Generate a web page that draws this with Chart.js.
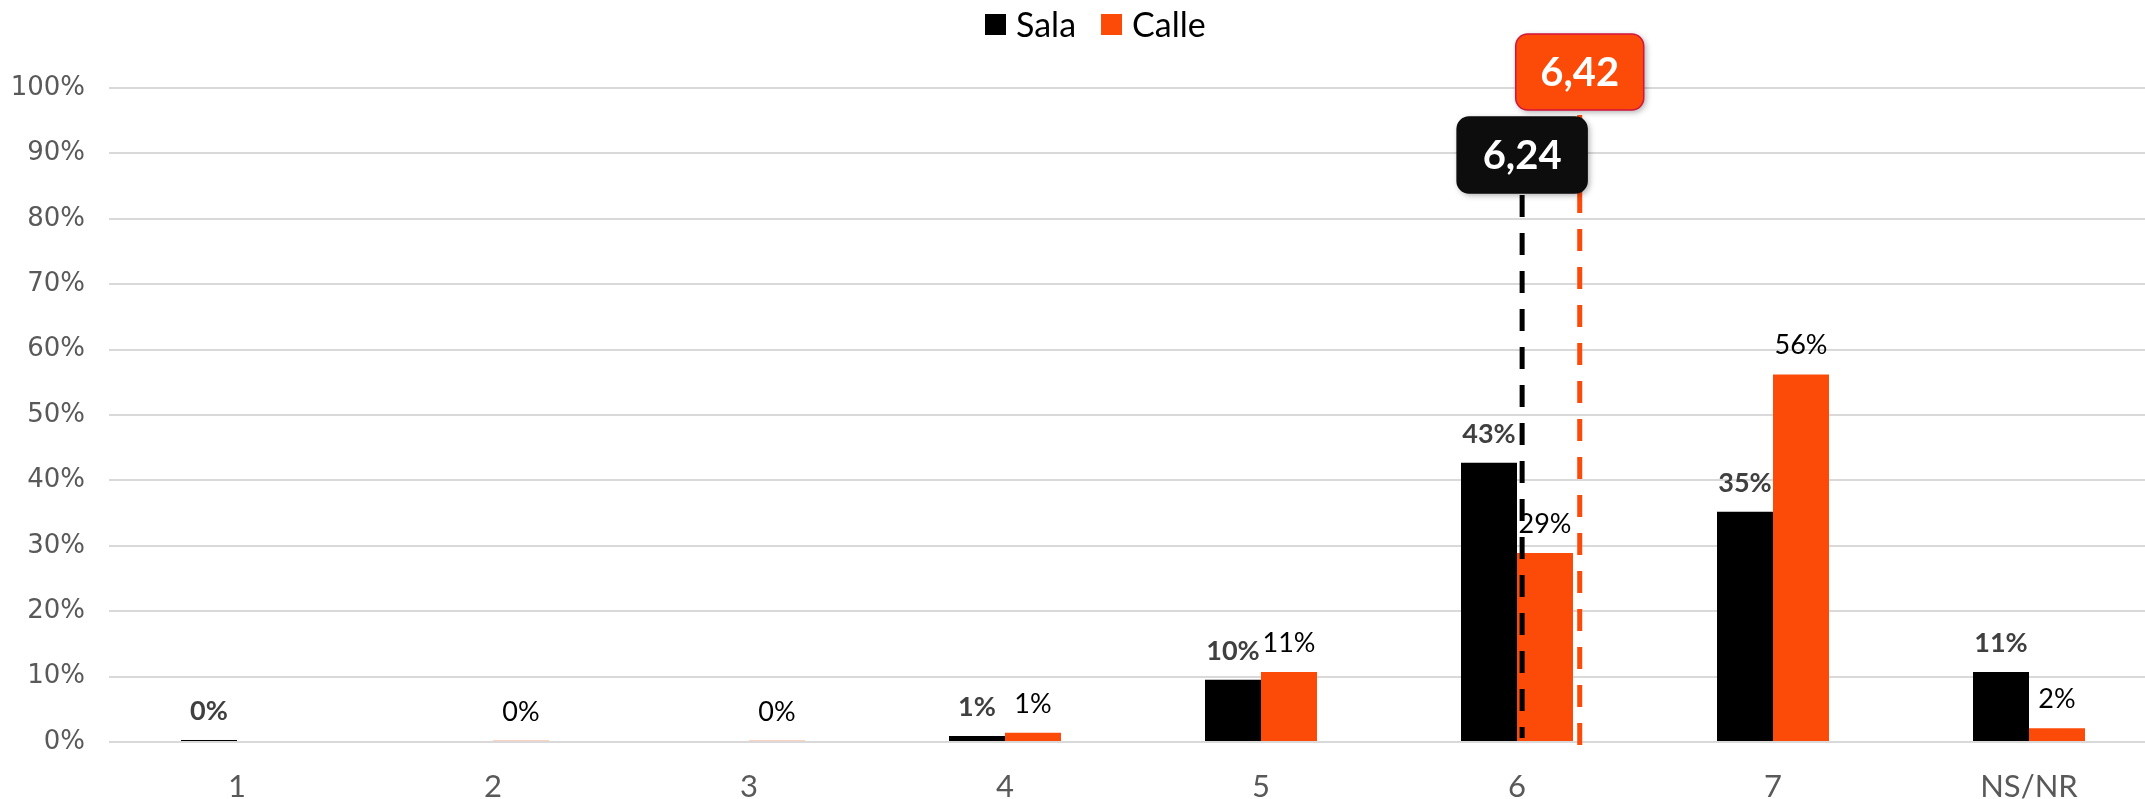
<!DOCTYPE html>
<html>
<head>
<meta charset="utf-8">
<script src="https://cdn.jsdelivr.net/npm/chart.js"></script>
<style>
  html, body { margin: 0; padding: 0; background: #fff; overflow: hidden; }
  #wrap { width: 2157px; height: 799px; }
</style>
</head>
<body>
<div id="wrap"><canvas id="myChart" width="2157" height="799"></canvas></div>
<script>
// data
var categories = ['1', '2', '3', '4', '5', '6', '7', 'NS/NR'];
var sala  = [0.003, 0, 0, 0.009, 0.095, 0.427, 0.352, 0.107];
var calle = [0, 0.002, 0.002, 0.014, 0.107, 0.289, 0.562, 0.021];
var yTicks = [0, 0.1, 0.2, 0.3, 0.4, 0.5, 0.6, 0.7, 0.8, 0.9, 1];
var seriesNames = ['Sala', 'Calle'];
var means = ['6,24', '6,42'];

var BLACK = '#000000';
var ORANGE = '#FC4A08';
var LABEL_FONT = 'Lato, Carlito, sans-serif';

// bar value labels, legend and mean callouts
var extras = {
    id: 'extras',
    afterDatasetsDraw: function (chart) {
        var ctx = chart.ctx;
        ctx.save();
        ctx.textAlign = 'center';
        ctx.textBaseline = 'alphabetic';
        chart.data.datasets.forEach(function (ds, di) {
            var meta = chart.getDatasetMeta(di);
            meta.data.forEach(function (bar, i) {
                var v = ds.data[i];
                if (!v) return;
                if (di == 0) {
                    ctx.font = 'bold 27px ' + LABEL_FONT;
                    ctx.fillStyle = '#404040';
                } else {
                    ctx.font = '27px ' + LABEL_FONT;
                    ctx.fillStyle = '#000000';
                }
                ctx.fillText(Math.round(v * 100) + '%', bar.x, bar.y - 20);
            });
        });
        ctx.restore();
    },
    afterDraw: function (chart) {
        var ctx = chart.ctx;
        var x = chart.scales.x;
        ctx.save();

        // legend
        var colors = [BLACK, ORANGE];
        var lx = 985;
        ctx.font = '34px ' + LABEL_FONT;
        ctx.textBaseline = 'middle';
        ctx.textAlign = 'left';
        seriesNames.forEach(function (name, k) {
            ctx.fillStyle = colors[k];
            ctx.fillRect(lx, 14, 21, 21);
            ctx.fillStyle = '#000';
            ctx.fillText(name, lx + 31, 26);
            lx += 31 + ctx.measureText(name).width + 25;
        });

        // mean markers (positions on the category scale)
        var markers = [
            { at: 5.02, text: means[0], color: BLACK, fill: '#0d0d0d', stroke: '#0d0d0d', top: 195, bottom: 738, boxY: 117, boxW: 130, boxH: 76 },
            { at: 5.245, text: means[1], color: ORANGE, fill: ORANGE, stroke: '#d4143c', top: 115, bottom: 749, boxY: 34, boxW: 128, boxH: 76 }
        ];
        var step = x.getPixelForValue(1) - x.getPixelForValue(0);
        markers.forEach(function (m) {
            var px = x.getPixelForValue(0) + m.at * step;
            ctx.strokeStyle = m.color;
            ctx.lineWidth = 5;
            ctx.setLineDash([22, 16]);
            ctx.beginPath();
            ctx.moveTo(px, m.top);
            ctx.lineTo(px, m.bottom);
            ctx.stroke();
            ctx.setLineDash([]);
        });
        markers.forEach(function (m) {
            var px = x.getPixelForValue(0) + m.at * step;
            var bx = px - m.boxW / 2;
            ctx.save();
            ctx.shadowColor = 'rgba(0,0,0,0.35)';
            ctx.shadowBlur = 6;
            ctx.shadowOffsetX = 2;
            ctx.shadowOffsetY = 2;
            ctx.beginPath();
            ctx.roundRect(bx, m.boxY, m.boxW, m.boxH, 12);
            ctx.fillStyle = m.fill;
            ctx.fill();
            ctx.restore();
            ctx.lineWidth = 1.5;
            ctx.strokeStyle = m.stroke;
            ctx.beginPath();
            ctx.roundRect(bx, m.boxY, m.boxW, m.boxH, 12);
            ctx.stroke();
            ctx.fillStyle = '#fff';
            ctx.font = 'bold 40px ' + LABEL_FONT;
            ctx.textAlign = 'center';
            ctx.textBaseline = 'middle';
            ctx.fillText(m.text, px, m.boxY + m.boxH / 2 + 1);
        });
        ctx.restore();
    }
};

var ctx = document.getElementById('myChart').getContext('2d');
var myChart = new Chart(ctx, {
    type: 'bar',
    data: {
        labels: categories,
        datasets: [{
            label: seriesNames[0],
            data: sala,
            backgroundColor: BLACK,
            categoryPercentage: 0.4375,
            barPercentage: 1.0
        }, {
            label: seriesNames[1],
            data: calle,
            backgroundColor: ORANGE,
            categoryPercentage: 0.4375,
            barPercentage: 1.0
        }]
    },
    options: {
        responsive: false,
        animation: false,
        devicePixelRatio: 1,
        layout: { padding: { top: 88, left: 0, right: 0, bottom: 0 } },
        scales: {
            y: {
                min: 0,
                max: 1,
                afterBuildTicks: function (s) {
                    s.ticks = yTicks.map(function (v) { return { value: v }; });
                },
                afterFit: function (s) { s.width = 109; },
                grid: { color: '#d9d9d9', lineWidth: 2, drawTicks: false },
                border: { display: false },
                ticks: {
                    padding: 24,
                    color: '#595959',
                    font: { family: 'DejaVu Sans', size: 26 },
                    callback: function (v) { return Math.round(v * 100) + '%'; }
                }
            },
            x: {
                afterFit: function (s) { s.height = 57; },
                grid: { display: false },
                border: { display: false },
                ticks: {
                    padding: 18,
                    color: '#595959',
                    font: { family: LABEL_FONT, size: 31 }
                }
            }
        },
        plugins: {
            legend: { display: false },
            tooltip: { enabled: false }
        }
    },
    plugins: [extras]
});
</script>
</body>
</html>
